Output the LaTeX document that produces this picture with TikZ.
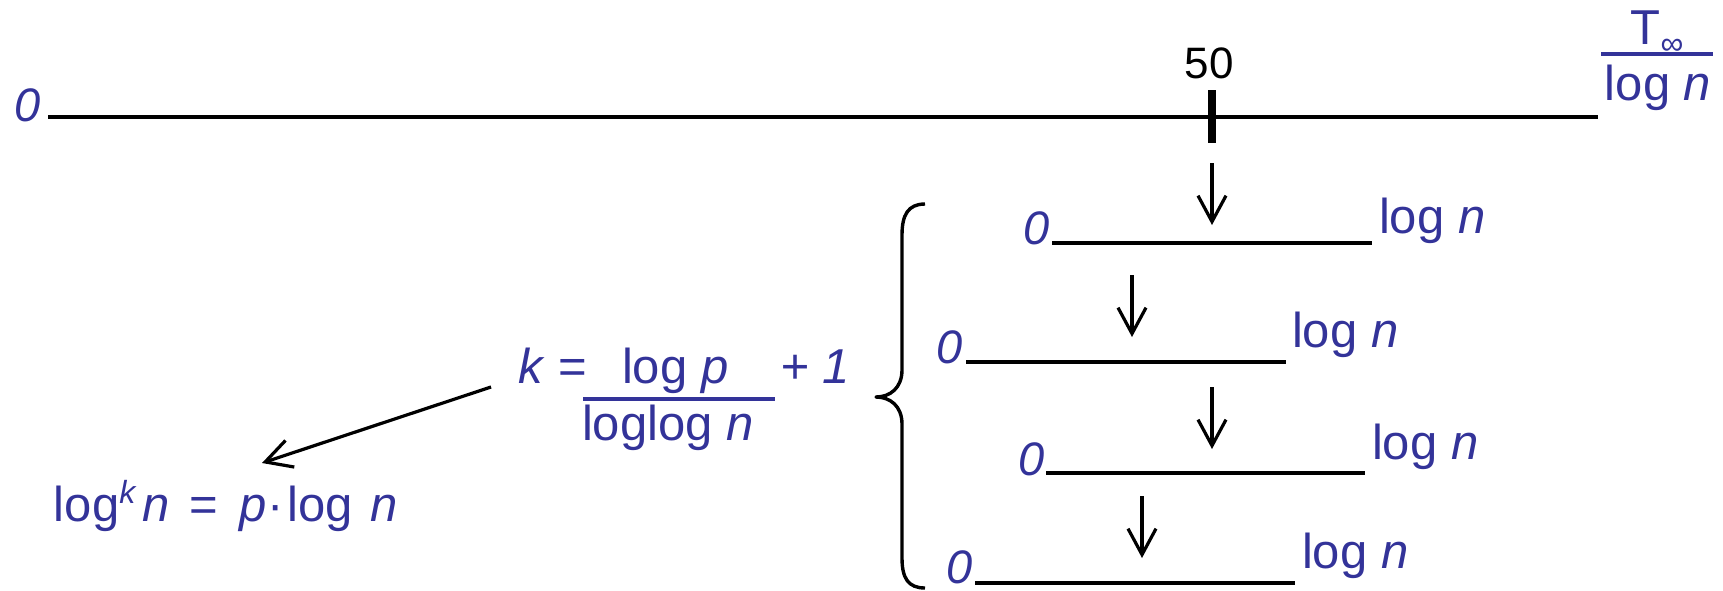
\documentclass[tikz,border=0pt]{standalone}
\usepackage{fontspec}
\setmainfont{Liberation Sans}
\usetikzlibrary{arrows.meta}
\definecolor{myblue}{RGB}{51,51,153}
\begin{document}
\begin{tikzpicture}[x=0.5pt,y=-0.5pt,
  lbl/.style={inner sep=0pt, outer sep=0pt, text=myblue, font=\fontsize{24.5}{28}\selectfont},
  zero/.style={lbl, font=\fontsize{23.5}{27}\selectfont\itshape, anchor=base east},
  logn/.style={lbl, anchor=base west},
  axisline/.style={line width=2pt, black},
  fracbar/.style={line width=2pt, myblue},
  downarrow/.style={line width=1.6pt, -{Straight Barb[length=13pt,width=14pt]}},
  bracestyle/.style={line width=1.7pt, line join=round}
]
\useasboundingbox (0,0) rectangle (1723,590);

% main time line
\coordinate (m0) at (48,117);
\coordinate (m1) at (1598,117);
\draw[axisline] (m0) -- (m1);
\node[zero] (z0) at (41,121) {0};
\coordinate (tickT) at (1212,90);
\coordinate (tickB) at (1212,143);
\draw[line width=4pt] (tickT) -- (tickB);
\node[inner sep=0pt, anchor=base, font=\fontsize{22}{26}\selectfont] (fifty) at (1209,78) {50};

% T_inf / log n
\node[lbl, anchor=base] (tnum) at (1657,44) {T\raisebox{-5pt}{\fontsize{16}{16}\selectfont ∞}};
\coordinate (tb0) at (1601,54);
\coordinate (tb1) at (1713,54);
\draw[fracbar] (tb0) -- (tb1);
\node[lbl, anchor=base] (tden) at (1658,100) {log \textit{n}};

% sub-lines
\coordinate (a0) at (1052,243); \coordinate (a1) at (1372,243);
\coordinate (b0) at (966,362);  \coordinate (b1) at (1286,362);
\coordinate (c0) at (1046,473); \coordinate (c1) at (1365,473);
\coordinate (d0) at (975,583);  \coordinate (d1) at (1295,583);
\draw[axisline] (a0) -- (a1);
\draw[axisline] (b0) -- (b1);
\draw[axisline] (c0) -- (c1);
\draw[axisline] (d0) -- (d1);
\node[zero] (za) at (1050,244) {0};
\node[zero] (zb) at (963,363) {0};
\node[zero] (zc) at (1045,475) {0};
\node[zero] (zd) at (973,583) {0};
\node[logn] (la) at (1379,233) {log \textit{n}};
\node[logn] (lb) at (1292,347) {log \textit{n}};
\node[logn] (lc) at (1372,459) {log \textit{n}};
\node[logn] (ld) at (1302,568) {log \textit{n}};

% down arrows
\coordinate (p1s) at (1212,163); \coordinate (p1e) at (1212,225);
\coordinate (p2s) at (1132,275); \coordinate (p2e) at (1132,337);
\coordinate (p3s) at (1212,387); \coordinate (p3e) at (1212,449);
\coordinate (p4s) at (1142,496); \coordinate (p4e) at (1142,558);
\draw[downarrow] (p1s) -- (p1e);
\draw[downarrow] (p2s) -- (p2e);
\draw[downarrow] (p3s) -- (p3e);
\draw[downarrow] (p4s) -- (p4e);

% brace
\draw[bracestyle] (925,204) .. controls (908,204) and (902,215) .. (902,235)
  -- (902,370) .. controls (902,388) and (890,397) .. (876,397)
  .. controls (890,397) and (902,406) .. (902,424)
  -- (902,558) .. controls (902,578) and (908,588) .. (925,588);

% k formula
\node[logn] (keq) at (518,383) {\textit{k} =};
\node[logn] (knum) at (622,383) {log \textit{p}};
\coordinate (kb0) at (583,399);
\coordinate (kb1) at (775,399);
\draw[fracbar] (kb0) -- (kb1);
\node[logn] (kden) at (582,440) {loglog \textit{n}};
\node[logn] (kplus) at (780,383) {\textit{+ 1}};

% diagonal arrow and result
\coordinate (ds) at (491,387);
\coordinate (de) at (262,463);
\draw[downarrow] (ds) -- (de);
\node[logn] (res) at (54,521) {log\raisebox{9pt}{\fontsize{16}{18}\selectfont\textit{k}}\kern3pt\textit{n}\hspace{3pt} = \hspace{4pt}\textit{p}·\hspace{2pt}log\hspace{2pt} \textit{n}};
\end{tikzpicture}
\end{document}
